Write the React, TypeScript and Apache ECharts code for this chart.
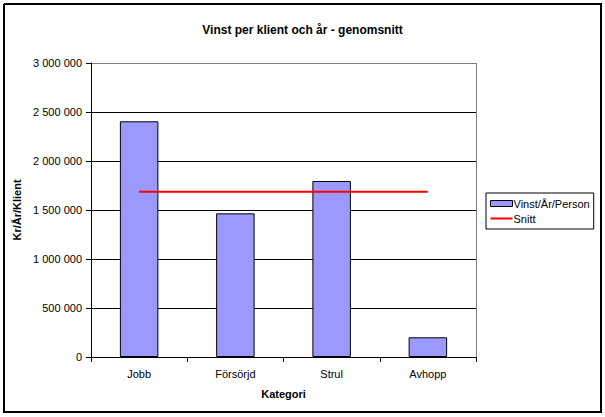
import React, { useEffect, useRef } from "react";
import * as echarts from "echarts";

const categories = ["Jobb", "Försörjd", "Strul", "Avhopp"];
const vinstValues = [2405000, 1466000, 1796000, 201000];
const snittValues = [1687000, 1687000, 1687000, 1687000];
const titleText = "Vinst per klient och år - genomsnitt";
const yAxisName = "Kr/År/Klient";
const xAxisName = "Kategori";
const seriesNames = ["Vinst/År/Person", "Snitt"];

const FONT = "'Liberation Sans', Arial, sans-serif";
const LINE_ICON = "path://M0,0l0.01,0l-0.01,0.01z M0,2h22v2h-22z M22,6l-0.01,0l0.01,-0.01z";

function fmt(v: number): string {
  return String(Math.round(v)).replace(/\B(?=(\d{3})+(?!\d))/g, " ");
}

export default function App() {
  const ref = useRef<HTMLDivElement>(null);
  useEffect(() => {
    if (!ref.current) return;
    const chart = echarts.init(ref.current, undefined, { renderer: "svg" });
    const gridRight = 605 - 129;
    chart.setOption({
      animation: false,
      backgroundColor: "#fff",
      textStyle: { fontFamily: FONT },
      title: {
        text: titleText,
        left: "center",
        top: 19,
        textStyle: { fontFamily: FONT, fontSize: 12, fontWeight: "bold", color: "#000" },
      },
      graphic: [
        {
          type: "line",
          shape: { x1: gridRight + 0.5, y1: 63, x2: gridRight + 0.5, y2: 357 },
          style: { stroke: "#808080", lineWidth: 1 },
          silent: true,
          z: 1,
        },
        {
          type: "polyline",
          shape: {
            points: [
              [4, 4],
              [601, 4],
              [601, 412],
              [4, 412],
              [4, 4],
            ],
          },
          style: { stroke: "#000", lineWidth: 2, fill: null },
          silent: true,
          z: 50,
        },
      ],
      legend: {
        orient: "vertical",
        left: 486,
        top: 193,
        padding: [5, 4, 5, 4],
        itemGap: 4,
        itemWidth: 22,
        itemHeight: 6,
        borderColor: "#000",
        borderWidth: 1,
        backgroundColor: "#fff",
        textStyle: { fontFamily: FONT, fontSize: 11, color: "#000", padding: [0, 0, 0, -4] },
        data: [
          { name: seriesNames[0], icon: "rect", itemStyle: { borderWidth: 1, borderColor: "#000" } },
          { name: seriesNames[1], icon: LINE_ICON, itemStyle: { color: "#ff0000", borderWidth: 0 } },
        ],
      },
      grid: { left: 91, top: 63, right: 129, bottom: 60, containLabel: false },
      xAxis: {
        type: "category",
        data: categories,
        boundaryGap: true,
        name: xAxisName,
        nameLocation: "middle",
        nameGap: 31,
        nameTextStyle: { fontFamily: FONT, fontSize: 11, fontWeight: "bold", color: "#000" },
        axisLine: { lineStyle: { color: "#000", width: 1 } },
        axisTick: { show: true, length: 5, lineStyle: { color: "#000" } },
        axisLabel: { fontFamily: FONT, fontSize: 11, color: "#000", margin: 11 },
        splitLine: { show: false },
      },
      yAxis: {
        type: "value",
        min: 0,
        max: 3000000,
        interval: 500000,
        name: yAxisName,
        nameLocation: "middle",
        nameGap: 56,
        nameRotate: 90,
        nameTextStyle: { fontFamily: FONT, fontSize: 11, fontWeight: "bold", color: "#000" },
        axisLine: { show: true, lineStyle: { color: "#000", width: 1 } },
        axisTick: { show: true, length: 5, lineStyle: { color: "#000" } },
        axisLabel: {
          fontFamily: FONT,
          fontSize: 11,
          color: "#000",
          margin: 9,
          formatter: (v: number) => fmt(v),
        },
        splitLine: {
          show: true,
          lineStyle: {
            color: ["#000", "#000", "#000", "#000", "#000", "#000", "#808080"],
            width: 1,
          },
        },
      },
      series: [
        {
          name: seriesNames[0],
          type: "bar",
          data: vinstValues,
          barWidth: "40%",
          itemStyle: { color: "#9999ff", borderColor: "#000", borderWidth: 1 },
          z: 2,
        },
        {
          name: seriesNames[1],
          type: "line",
          data: snittValues,
          symbol: "none",
          showSymbol: false,
          lineStyle: { color: "#ff0000", width: 2 },
          itemStyle: { color: "#ff0000" },
          z: 3,
        },
      ],
    });
    return () => chart.dispose();
  }, []);
  return (
    <div style={{ position: "fixed", left: 0, top: 0, width: 605, height: 417 }}>
      <div ref={ref} style={{ position: "absolute", left: 0, top: 0, width: 605, height: 417 }} />
    </div>
  );
}
